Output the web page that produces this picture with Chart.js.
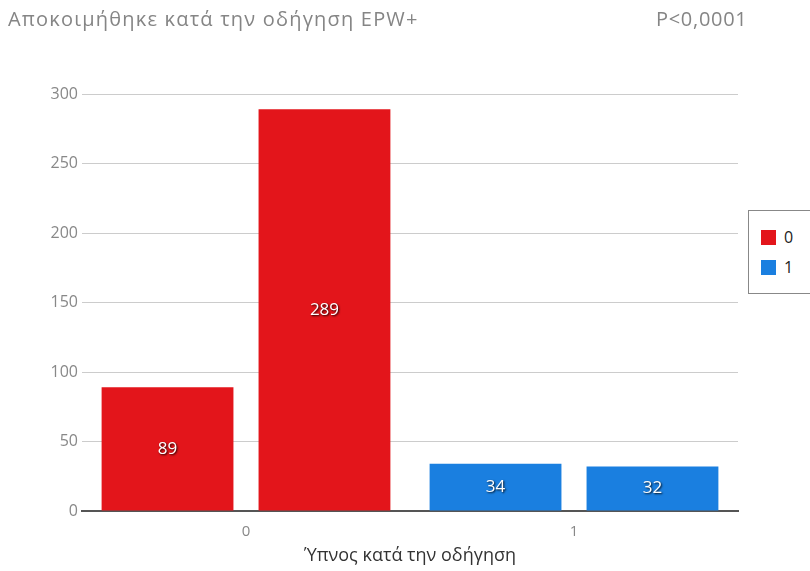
<!DOCTYPE html>
<html>
<head>
<meta charset="utf-8">
<script src="https://cdn.jsdelivr.net/npm/chart.js@4"></script>
<style>
  body { margin: 0; background: #fff; font-family: "Open Sans", sans-serif; }
  #wrap { position: relative; width: 810px; height: 571px; }
  #title { position: absolute; left: 8px; top: 5px; font-size: 20px; letter-spacing: 1.2px; color: #858585; }
  #pval { position: absolute; left: 656px; top: 5px; font-size: 20px; letter-spacing: 0.7px; color: #858585; }
  #legend { position: absolute; left: 748px; top: 210px; width: 70px; height: 84px;
            border: 1px solid #888; box-sizing: border-box; background: #fff; }
  .item { position: absolute; left: 12px; font-size: 16px; color: #222; }
  .sw { display: inline-block; width: 15px; height: 15px; vertical-align: -2px; margin-right: 8px; }
</style>
</head>
<body>
<div id="wrap">
  <canvas id="chart" width="810" height="571"></canvas>
  <div id="title">Αποκοιμήθηκε κατά την οδήγηση EPW+</div>
  <div id="pval">P&lt;0,0001</div>
  <div id="legend"></div>
</div>
<script>
var categories = ['0', '1'];
var firstBar = [89, 34];
var secondBar = [289, 32];
var yTicks = [0, 50, 100, 150, 200, 250, 300];
var catColors = ['#e3151b', '#1a7fe0'];

// legend built from the categories
var legend = document.getElementById('legend');
categories.forEach(function (c, i) {
    var d = document.createElement('div');
    d.className = 'item';
    d.style.top = (15 + i * 30) + 'px';
    d.innerHTML = '<span class="sw" style="background:' + catColors[i] + '"></span>' + c;
    legend.appendChild(d);
});

var valueLabels = {
    id: 'valueLabels',
    afterDatasetsDraw: function (chart) {
        var ctx = chart.ctx;
        ctx.save();
        ctx.font = '500 17px "Open Sans"';
        ctx.textAlign = 'center';
        ctx.textBaseline = 'middle';
        ctx.fillStyle = '#fff';
        ctx.shadowColor = 'rgba(0,0,0,0.9)';
        ctx.shadowOffsetX = 1;
        ctx.shadowOffsetY = 1;
        ctx.shadowBlur = 2;
        chart.data.datasets.forEach(function (ds, di) {
            chart.getDatasetMeta(di).data.forEach(function (bar, i) {
                var y = (bar.y + bar.base) / 2;
                ctx.fillText(ds.data[i], bar.x, y);
            });
        });
        ctx.restore();
    }
};

var ctx = document.getElementById('chart').getContext('2d');
var chart = new Chart(ctx, {
    type: 'bar',
    data: {
        labels: categories,
        datasets: [{
            label: 'a',
            data: firstBar,
            backgroundColor: catColors,
            categoryPercentage: 0.957,
            barPercentage: 0.84
        }, {
            label: 'b',
            data: secondBar,
            backgroundColor: catColors,
            categoryPercentage: 0.957,
            barPercentage: 0.84
        }]
    },
    options: {
        responsive: false,
        animation: false,
        layout: { padding: { top: 94, right: 72, left: 0, bottom: 0 } },
        plugins: {
            legend: { display: false },
            tooltip: { enabled: false }
        },
        scales: {
            x: {
                grid: { display: false },
                border: { color: '#555', width: 2 },
                ticks: { color: '#888', font: { size: 15, family: 'Open Sans' }, padding: 4 },
                title: { display: true, text: 'Ύπνος κατά την οδήγηση', color: '#333',
                         font: { size: 18, family: 'Open Sans' }, padding: { top: 0 } },
                afterFit: function (s) { s.height = 60; }
            },
            y: {
                min: 0, max: 300,
                afterBuildTicks: function (s) { s.ticks = yTicks.map(function (v) { return { value: v }; }); },
                grid: { color: '#cccccc', drawTicks: false },
                border: { display: false },
                ticks: { color: '#888', font: { size: 16, family: 'Open Sans' }, padding: 4 },
                afterFit: function (s) { s.width = 82; }
            }
        }
    },
    plugins: [valueLabels]
});
</script>
</body>
</html>
